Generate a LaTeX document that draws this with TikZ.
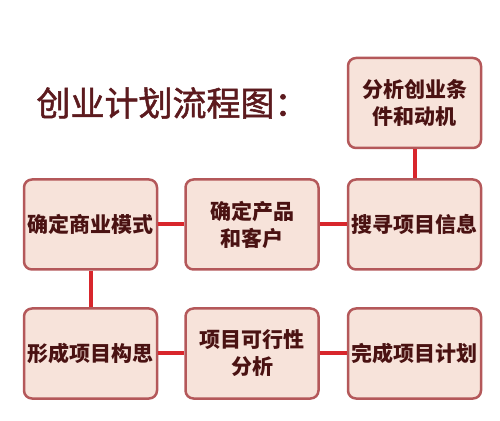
\documentclass[tikz,border=0pt]{standalone}
\usepackage{fontspec}
\newfontfamily\cjk{Noto Sans CJK SC}
\newfontfamily\cjktitle[FakeBold=1.5]{Noto Sans CJK SC}
\definecolor{boxfill}{HTML}{F7E3DA}
\definecolor{boxline}{HTML}{B4585A}
\definecolor{boxtext}{HTML}{4A1212}
\definecolor{linkred}{HTML}{D8262C}
\definecolor{titlered}{HTML}{5C1A1E}

\begin{document}
\begin{tikzpicture}[x=1pt,y=1pt,
  stage/.style={draw=boxline, fill=boxfill, line width=2.5pt, rounded corners=8pt,
    minimum width=133pt, minimum height=90pt, align=center, text=boxtext,
    font=\cjk\bfseries\fontsize{21}{27}\selectfont},
  link/.style={draw=linkred, line width=4pt}]
\useasboundingbox (0,0) rectangle (500,420);
\node[text=titlered, font=\cjktitle\fontsize{34}{38}\selectfont] (title) at (172.5,317) {创业计划流程图：};
\node[stage] (analyse) at (414.5,317) {分析创业条\\件和动机};
\node[stage] (search) at (414.5,195.5) {搜寻项目信息};
\node[stage] (product) at (252,195.5) {确定产品\\和客户};
\node[stage] (model) at (90.5,195.5) {确定商业模式};
\node[stage] (idea) at (90.5,66.5) {形成项目构思};
\node[stage] (feasible) at (252,66.5) {项目可行性\\分析};
\node[stage] (plan) at (414.5,66.5) {完成项目计划};
\draw[link] (analyse) -- (search);
\draw[link] (search) -- (product);
\draw[link] (product) -- (model);
\draw[link] (model) -- (idea);
\draw[link] (idea) -- (feasible);
\draw[link] (feasible) -- (plan);
\end{tikzpicture}
\end{document}
